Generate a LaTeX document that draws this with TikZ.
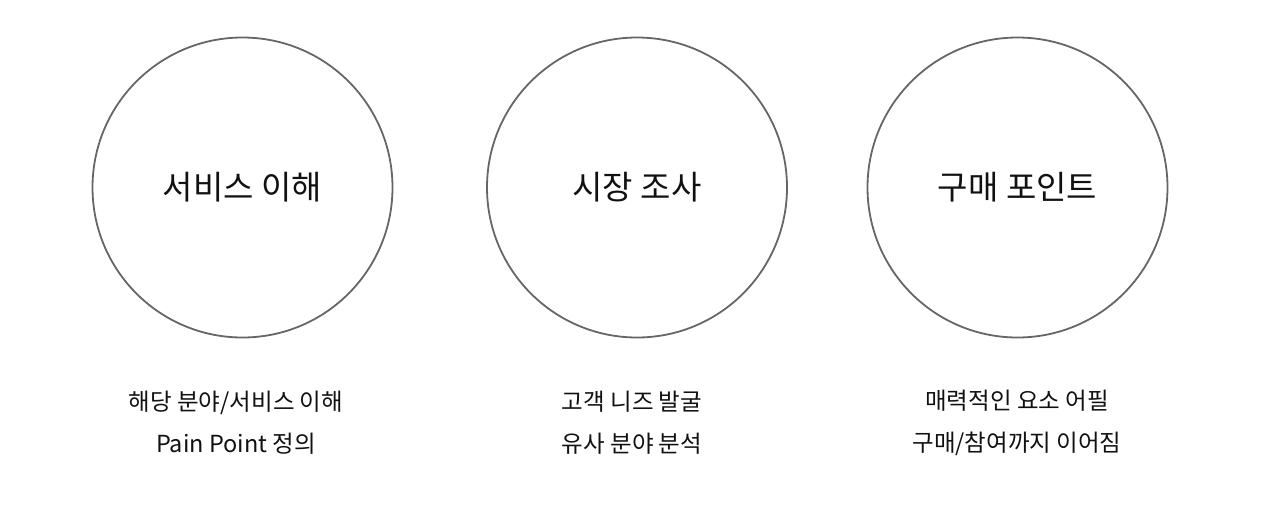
\documentclass[tikz,border=0pt]{standalone}
\usepackage{fontspec}
\setmainfont{Noto Sans CJK KR}
\definecolor{ring}{HTML}{666666}
\definecolor{txt}{HTML}{111111}
\begin{document}
\begin{tikzpicture}[x=1pt,y=-1pt,
  ring/.style={draw=ring,line width=1.8pt,circle,minimum size=300pt,inner sep=0pt,
    font=\fontsize{33}{38}\selectfont,text=txt},
  desc/.style={align=center,font=\fontsize{23.5}{42}\selectfont,text=txt}]
\useasboundingbox (0,0) rectangle (1280,507);
\node[ring] (c1) at (242.5,187.5) {서비스 이해};
\node[ring] (c2) at (637,187.5) {시장 조사};
\node[ring] (c3) at (1017.5,187.5) {구매 포인트};
\node[desc] (d1) at (236,423) {해당 분야/서비스 이해\\Pain Point 정의};
\node[desc] (d2) at (632,423) {고객 니즈 발굴\\유사 분야 분석};
\node[desc] (d3) at (1017,423) {매력적인 요소 어필\\구매/참여까지 이어짐};
\end{tikzpicture}
\end{document}
